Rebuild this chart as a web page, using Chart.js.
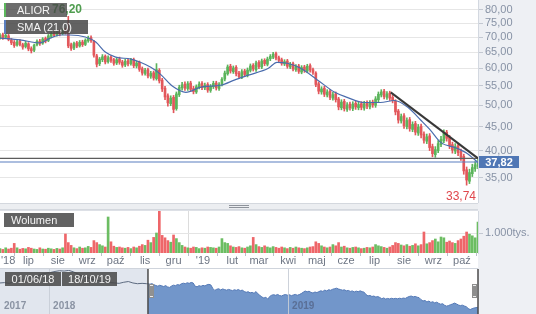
<!DOCTYPE html>
<html><head><meta charset="utf-8">
<script src="https://cdn.jsdelivr.net/npm/chart.js@4.4.1/dist/chart.umd.min.js"></script>
<style>
html,body{margin:0;padding:0;background:#fff;width:536px;height:314px;overflow:hidden;font-family:'Liberation Sans',Arial,sans-serif;}
.wrap{position:absolute;left:0;width:536px;}
canvas{display:block;}
.tag{position:absolute;height:14px;line-height:14px;font-size:11px;color:#f4f4f4;background:rgba(72,72,72,0.86);box-sizing:border-box;white-space:nowrap;}
</style></head><body>
<div class="wrap" style="top:0;height:203px"><canvas id="main" width="536" height="203"></canvas></div>
<div class="wrap" style="top:203px;height:65px"><canvas id="vol" width="536" height="65"></canvas></div>
<div class="wrap" style="top:268px;height:46px"><canvas id="nav" width="536" height="46"></canvas></div>
<div style="position:absolute;left:52px;top:2px;font-size:12px;font-weight:bold;color:#4f9d4f">76,20</div>
<div class="tag" style="left:4px;top:3px;width:63px;padding-left:11px;border-left:2px solid #5cb85c;background:rgba(72,72,72,0.8)">ALIOR</div>
<div class="tag" style="left:4px;top:20px;width:84px;padding-left:11px;border-left:2px solid #5b7fbf">SMA (21,0)</div>
<div class="tag" style="left:4px;top:213px;width:70px;padding-left:7px">Wolumen</div>
<div class="tag" style="left:5px;top:272px;width:56px;text-align:center">01/06/18</div>
<div class="tag" style="left:62px;top:272px;width:55px;text-align:center">18/10/19</div>
<script>
// ---------- data ----------
const DAY_STEP = 3;            // calendar days between drawn sessions
const END_DAY = 504;           // 01/06/18 .. 18/10/19
const YEAR_DAY = 214;          // 01/01/19
const monthDays   = [0,30,61,92,122,153,183,214,245,273,304,334,365,395,426,457,487];
const monthLabels = ["'18","lip","sie","wrz","paź","lis","gru","'19","lut","mar","kwi","maj","cze","lip","sie","wrz","paź"];
const priceTicks = [35,40,45,50,55,60,65,70,75,80];
const PRICE_MIN = 30.9, PRICE_MAX = 84.0;
const LAST_PRICE = 37.82;
const SUPPORT_LEVEL = 38.5;
const trendDays = [412, 504];
const trendValues = [53.3, 38.5];

const opens = [69.8,70.8,69.9,70.4,69.0,68.2,67.3,68.6,67.4,66.8,
 67.7,66.1,65.6,67.4,68.6,67.9,69.5,68.8,70.2,71.4,
 70.8,71.9,71.2,72.5,72.0,67.4,66.3,68.0,67.0,68.3,
 67.5,68.7,69.8,68.5,63.8,61.4,62.6,63.7,62.0,63.4,
 62.6,61.6,62.8,61.9,61.0,62.3,61.4,62.6,60.7,61.8,
 59.9,58.5,59.6,57.7,58.7,57.0,59.4,56.6,54.4,52.4,
 50.4,52.0,49.2,52.7,54.5,55.5,54.3,55.8,54.3,53.4,
 54.7,55.7,54.5,55.4,53.8,54.8,55.8,54.3,55.5,56.9,
 58.4,60.6,59.0,60.3,58.6,57.5,59.2,58.0,59.4,60.9,
 59.6,61.8,60.4,62.4,61.2,62.9,63.4,64.5,63.2,62.6,
 61.3,62.2,60.4,61.4,59.6,60.7,58.9,60.4,59.2,60.8,
 59.6,58.6,55.6,53.4,54.4,52.6,53.6,51.8,52.9,51.6,
 49.4,51.0,49.0,50.3,49.2,50.5,49.4,50.4,49.3,50.6,
 49.6,50.8,50.0,51.4,52.6,53.6,52.0,53.1,52.0,51.0,
 48.6,46.3,47.5,45.0,46.6,44.4,45.7,43.6,45.1,43.4,
 41.9,43.0,40.8,39.2,40.0,41.2,42.0,43.8,42.7,41.2,
 39.9,41.0,39.8,38.9,36.4,34.4,35.7,36.6,37.0];
const highs = [71.2,71.4,71.1,70.9,69.5,68.8,68.9,69.1,67.9,68.5,
 68.1,66.7,67.6,69.0,69.2,69.8,70.0,70.9,71.8,72.0,
 72.4,72.5,73.0,73.1,77.5,67.9,68.3,68.5,68.8,68.9,
 69.4,70.3,70.4,68.9,64.3,63.3,64.2,64.1,63.8,63.9,
 63.0,63.1,63.4,62.4,62.7,62.8,63.0,63.1,62.2,62.2,
 60.4,60.0,60.1,59.1,59.2,61.4,59.9,57.1,54.9,52.9,
 52.4,52.5,53.4,55.2,56.0,56.1,56.2,56.3,54.9,55.3,
 56.1,56.2,55.8,55.9,55.4,56.3,56.3,55.9,57.3,59.2,
 61.0,61.2,60.7,60.8,59.1,59.6,59.7,60.1,61.3,61.4,
 62.2,62.3,62.8,62.9,63.4,64.2,64.9,65.0,63.7,63.1,
 62.6,62.7,61.8,61.9,61.1,61.2,60.8,60.9,61.2,61.3,
 60.1,59.0,56.1,54.8,54.9,54.0,54.1,53.3,53.4,52.0,
 51.4,51.5,50.7,50.8,50.9,51.0,50.8,50.9,51.0,51.1,
 51.2,51.3,52.2,53.4,54.0,54.1,53.5,53.6,52.5,51.4,
 49.0,47.9,48.0,47.0,47.1,46.1,46.2,45.5,45.6,43.9,
 43.4,43.5,41.3,40.8,42.0,42.9,44.3,44.2,43.1,41.7,
 41.4,41.5,40.3,39.3,36.9,36.5,37.4,37.9,38.3];
const lows = [69.3,69.2,69.5,68.7,67.4,66.5,66.9,67.0,65.9,66.3,
 65.4,64.7,65.1,67.0,67.2,67.5,68.0,68.4,69.7,70.1,
 70.3,70.4,70.8,71.0,66.4,65.5,65.8,66.4,66.6,66.8,
 67.1,68.2,68.2,63.4,60.4,60.8,62.0,61.3,61.5,61.8,
 60.9,61.1,61.2,60.3,60.5,60.7,60.9,60.2,60.1,59.1,
 58.0,58.0,57.2,57.1,56.6,56.6,55.8,53.5,51.4,49.8,
 49.9,48.2,48.8,52.2,53.9,53.8,53.8,53.5,52.9,53.0,
 54.2,54.0,54.0,53.3,53.3,54.3,53.9,53.8,55.0,56.4,
 58.0,58.6,58.5,57.8,57.0,57.0,57.6,57.5,58.9,59.2,
 59.1,59.9,59.9,60.8,60.7,62.3,62.9,62.5,61.8,60.9,
 60.8,60.0,59.9,59.2,59.1,58.5,58.4,58.8,58.7,58.9,
 58.2,54.8,52.9,52.8,52.2,52.1,51.4,51.3,50.8,48.9,
 48.9,48.6,48.5,48.8,48.7,49.0,48.9,48.9,48.8,49.2,
 49.1,49.5,49.5,50.9,52.1,51.6,51.5,51.2,50.6,47.7,
 45.8,45.8,44.6,44.5,44.0,43.9,43.2,43.1,42.6,41.5,
 41.4,40.0,38.8,38.7,39.6,40.8,41.6,41.9,40.4,39.5,
 39.4,39.0,38.1,35.6,33.74,34.0,35.2,36.1,36.6];
const closes = [70.5,69.8,70.6,69.2,68.0,67.1,68.4,67.5,66.6,67.9,
 66.0,65.4,67.2,68.5,67.8,69.3,68.6,70.4,71.2,70.6,
 71.8,71.0,72.3,71.5,67.0,66.2,67.8,66.9,68.2,67.4,
 68.9,69.6,68.8,64.0,61.2,62.8,63.5,61.9,63.2,62.4,
 61.5,62.6,61.8,60.9,62.1,61.3,62.5,60.8,61.6,59.7,
 58.6,59.4,57.8,58.5,57.2,59.6,56.4,54.2,52.1,50.6,
 51.8,49.0,52.9,54.6,55.3,54.4,55.6,54.1,53.5,54.8,
 55.5,54.6,55.2,53.9,54.9,55.7,54.5,55.4,56.8,58.6,
 60.4,59.2,60.1,58.4,57.6,59.0,58.2,59.5,60.7,59.8,
 61.6,60.5,62.2,61.4,62.8,63.6,64.3,63.1,62.4,61.5,
 62.0,60.6,61.2,59.8,60.5,59.1,60.2,59.4,60.6,59.5,
 58.8,55.4,53.6,54.2,52.8,53.4,52.0,52.7,51.4,49.6,
 50.8,49.2,50.1,49.4,50.3,49.6,50.2,49.5,50.4,49.8,
 50.6,50.1,51.6,52.8,53.4,52.2,52.9,51.8,51.2,48.4,
 46.5,47.3,45.2,46.4,44.6,45.5,43.8,44.9,43.2,42.1,
 42.8,40.6,39.4,40.2,41.4,42.3,43.6,42.5,41.0,40.1,
 40.8,39.6,38.7,36.2,34.6,35.9,36.8,37.3,37.82];
const volumes = [220,180,260,200,240,480,260,190,230,210,
 280,240,200,180,260,200,190,240,210,180,
 230,200,260,950,520,380,260,220,300,240,
 260,330,280,620,520,420,360,300,1800,560,
 340,280,300,260,240,280,220,300,260,340,
 420,380,640,520,780,1000,2150,880,760,620,
 540,900,720,520,380,300,260,240,300,280,
 220,260,240,300,280,260,240,300,720,520,
 480,360,300,280,320,260,240,300,360,780,
 420,320,280,360,300,260,320,280,240,300,
 260,220,280,240,300,260,240,220,260,300,
 320,560,480,360,300,260,300,420,360,520,
 300,340,260,240,280,300,260,220,240,280,
 260,300,420,360,320,280,240,300,380,520,
 480,400,360,420,340,380,460,360,420,1050,
 460,520,620,700,560,800,760,540,600,520,
 480,620,700,840,1050,940,860,760,1550];
const smaDays   = [0,21,42,53,64,74,90,101,111,122,138,148,159,169,182,196,212,233,247,262,283,292,303,317,335,353,366,384,401,416,430,444,454,465,480,493,504];
const smaValues = [69.6,69.0,68.0,69.6,70.7,70.7,70.0,68.3,65.0,63.4,62.8,61.8,60.3,58.3,54.9,53.3,54.7,55.2,56.6,58.0,60.0,61.8,61.5,60.0,56.6,53.3,52.0,50.7,50.7,51.2,49.5,46.4,44.2,41.6,40.6,39.4,37.7];
const volumeTicks = [1000];
const VOL_MAX = 2100;

// navigator (days counted from 18/10/17)
const NAV_SEL_START = 226, NAV_END = 730, NAV_MIN = 28.5, NAV_MAX = 89.5;
const navPreDays   = [0,7,14,21,28,35,42,49,56,63,70,77,84,91,98,105,112,119,126,133,140,147,154,161,168,175,182,189,196,203,210,217,224];
const navPreValues = [71.5,72.0,71.0,73.0,74.5,76.0,77.5,79.0,81.0,83.5,85.0,86.0,87.5,88.5,88.0,89.0,87.0,84.0,81.0,79.0,77.0,75.5,74.0,73.0,72.0,71.5,71.0,72.5,73.5,71.5,70.5,71.0,70.5];
const navYearDays = [0, 75, 440];
const navYearLabels = ['2017', '2018', '2019'];

// ---------- helpers ----------
const FONT = "'Liberation Sans', Arial, Helvetica, sans-serif";
Chart.defaults.font.family = FONT;
Chart.defaults.font.size = 11;
Chart.defaults.animation = false;
Chart.defaults.responsive = false;
Chart.defaults.plugins.legend.display = false;
Chart.defaults.plugins.tooltip.enabled = false;
const fmtPrice = v => Number(v).toFixed(2).replace('.', ',');
const UP = '#5bb45b', DOWN = '#e2575b';
const days = closes.map((_, i) => i * DAY_STEP);
const candleColors = closes.map((c, i) => c >= opens[i] ? UP : DOWN);
const volColors = closes.map((c, i) => c >= opens[i] ? '#6cbd62' : '#ee6669');
const AXIS_W = 58, AXIS_BG = '#eef0f4', LABEL_C = '#8792a5';

function noPad(s) { s.paddingLeft = 0; s.paddingRight = 0; s.paddingTop = 0; s.paddingBottom = 0; }

// ---------- main price chart ----------
const mainDecor = {
  id: 'mainDecor',
  beforeDraw(chart) {
    const {ctx, chartArea: a, width, height} = chart;
    ctx.save(); ctx.fillStyle = AXIS_BG; ctx.fillRect(a.right, 0, width - a.right, height); ctx.restore();
  },
  afterDraw(chart) {
    const {ctx, chartArea: a, scales: {x, y}} = chart;
    ctx.save();
    const py = Math.round(y.getPixelForValue(LAST_PRICE));
    ctx.fillStyle = '#5077b5';
    ctx.fillRect(a.right + 1, py - 6, 40, 12);
    ctx.fillStyle = '#fff';
    ctx.font = 'bold 11px ' + FONT;
    ctx.textAlign = 'center'; ctx.textBaseline = 'middle';
    ctx.fillText(fmtPrice(LAST_PRICE), a.right + 21, py + 0.5);
    let li = 0; lows.forEach((v, i) => { if (v < lows[li]) li = i; });
    const lx = x.getPixelForValue(days[li]);
    const ly = y.getPixelForValue(lows[li]);
    ctx.fillStyle = '#e0474c';
    ctx.font = '12px ' + FONT;
    ctx.textBaseline = 'top';
    ctx.fillText(fmtPrice(lows[li]), Math.min(lx - 2, a.right - 17), ly + 6);
    ctx.restore();
  }
};

new Chart(document.getElementById('main'), {
  type: 'bar',
  data: { datasets: [
    { type: 'line', label: 'trend', data: trendDays.map((d, i) => ({x: d, y: trendValues[i]})),
      borderColor: '#383838', borderWidth: 2, pointRadius: 0, order: 1 },
    { type: 'line', label: 'kurs', data: [{x: 0, y: LAST_PRICE}, {x: END_DAY, y: LAST_PRICE}],
      borderColor: '#5a7fc0', borderWidth: 1.2, pointRadius: 0, order: 2 },
    { type: 'line', label: 'poziom', data: [{x: 0, y: SUPPORT_LEVEL}, {x: END_DAY, y: SUPPORT_LEVEL}],
      borderColor: '#5c5c5c', borderWidth: 1.2, pointRadius: 0, order: 2 },
    { type: 'line', label: 'SMA (21,0)', data: smaDays.map((d, i) => ({x: d, y: smaValues[i]})),
      borderColor: '#4a6cad', borderWidth: 1.2, pointRadius: 0, cubicInterpolationMode: 'monotone', order: 3 },
    { type: 'bar', label: 'body', data: days.map((d, i) => ({x: d, y: [opens[i], closes[i]]})),
      backgroundColor: candleColors, barThickness: 2, grouped: false, order: 4 },
    { type: 'bar', label: 'wick', data: days.map((d, i) => ({x: d, y: [lows[i], highs[i]]})),
      backgroundColor: candleColors, barThickness: 1, grouped: false, order: 5 }
  ]},
  options: {
    layout: { padding: 0 },
    scales: {
      x: { type: 'linear', min: 0, max: END_DAY, offset: false,
        afterBuildTicks: s => { s.ticks = [{value: YEAR_DAY}]; },
        ticks: { display: false }, grid: { color: '#dcdcdc', drawTicks: false }, border: { display: false },
        afterFit: s => { s.height = 0; noPad(s); } },
      y: { type: 'logarithmic', position: 'right', min: PRICE_MIN, max: PRICE_MAX, bounds: 'data',
        afterBuildTicks: s => { s.ticks = priceTicks.map(v => ({value: v})); },
        ticks: { callback: v => fmtPrice(v), color: LABEL_C, font: {size: 11}, padding: 2, autoSkip: false },
        grid: { color: '#e6e6e6', tickColor: '#c3c8d1', tickLength: 5 },
        border: { color: '#d3d8e0' },
        afterFit: s => { s.width = AXIS_W; noPad(s); } }
    }
  },
  plugins: [mainDecor]
});

// ---------- volume chart ----------
const volDecor = {
  id: 'volDecor',
  beforeDraw(chart) {
    const {ctx, chartArea: a, width, height} = chart;
    ctx.save();
    ctx.fillStyle = AXIS_BG; ctx.fillRect(a.right, 0, width - a.right, height);
    ctx.fillStyle = '#eceef1'; ctx.fillRect(0, 0, a.right, 7);
    ctx.strokeStyle = '#d4d8de'; ctx.lineWidth = 1;
    ctx.beginPath(); ctx.moveTo(0, 0.5); ctx.lineTo(a.right, 0.5); ctx.moveTo(0, 6.5); ctx.lineTo(a.right, 6.5); ctx.stroke();
    const cx = Math.round(a.right / 2);
    ctx.strokeStyle = '#8d929a';
    ctx.beginPath(); ctx.moveTo(cx - 10, 2.5); ctx.lineTo(cx + 10, 2.5); ctx.moveTo(cx - 10, 4.5); ctx.lineTo(cx + 10, 4.5); ctx.stroke();
    ctx.strokeStyle = '#dde0e6';
    ctx.beginPath(); ctx.moveTo(0, a.top - 0.5); ctx.lineTo(a.right, a.top - 0.5); ctx.stroke();
    ctx.restore();
  },
  afterDraw(chart) {
    const {ctx, chartArea: a, scales: {x}} = chart;
    ctx.save();
    ctx.font = '11px ' + FONT; ctx.fillStyle = '#6e7684';
    ctx.textAlign = 'left'; ctx.textBaseline = 'middle';
    monthDays.forEach((d, i) => {
      const w = ctx.measureText(monthLabels[i]).width;
      let left = x.getPixelForValue(d) - w / 2;
      left = Math.max(1, Math.min(left, a.right - w - 1));
      ctx.fillText(monthLabels[i], left, a.bottom + 8);
    });
    ctx.restore();
  }
};

new Chart(document.getElementById('vol'), {
  type: 'bar',
  data: { datasets: [{ label: 'Wolumen', data: days.map((d, i) => ({x: d, y: volumes[i]})),
    backgroundColor: volColors, barThickness: 2 }]},
  options: {
    layout: { padding: { top: 8 } },
    scales: {
      x: { type: 'linear', min: 0, max: END_DAY, offset: false,
        afterBuildTicks: s => { s.ticks = monthDays.map(v => ({value: v})); },
        ticks: { display: false },
        grid: { color: c => (c.tick && c.tick.value === YEAR_DAY) ? '#dcdcdc' : 'rgba(0,0,0,0)', tickColor: '#b9bfc9', tickLength: 3 },
        border: { display: false },
        afterFit: s => { s.height = 15; noPad(s); } },
      y: { position: 'right', min: 0, max: VOL_MAX,
        afterBuildTicks: s => { s.ticks = volumeTicks.map(v => ({value: v})); },
        ticks: { callback: v => (v / 1000).toFixed(3) + 'tys.', color: LABEL_C, font: {size: 11}, padding: 2 },
        grid: { color: '#e4e4e4', tickColor: '#c3c8d1', tickLength: 5 },
        border: { color: '#d3d8e0' },
        afterFit: s => { s.width = AXIS_W; noPad(s); } }
    }
  },
  plugins: [volDecor]
});

// ---------- navigator ----------
const navDecor = {
  id: 'navDecor',
  beforeDatasetsDraw(chart) {
    const {ctx, chartArea: a, width, height, scales: {x}} = chart;
    const xs = x.getPixelForValue(NAV_SEL_START);
    ctx.save();
    ctx.fillStyle = AXIS_BG; ctx.fillRect(a.right, 0, width - a.right, height);
    ctx.fillStyle = '#e1e6ee'; ctx.fillRect(0, 0, xs, height);
    ctx.strokeStyle = '#cfd4dc'; ctx.lineWidth = 1;
    ctx.beginPath(); ctx.moveTo(0, 0.5); ctx.lineTo(a.right, 0.5); ctx.stroke();
    ctx.restore();
  },
  afterDatasetsDraw(chart) {
    const {ctx, chartArea: a, height, scales: {x}} = chart;
    const xs = x.getPixelForValue(NAV_SEL_START);
    const xe = x.getPixelForValue(NAV_END);
    ctx.save();
    ctx.strokeStyle = 'rgba(200,205,214,0.9)'; ctx.lineWidth = 1;
    navYearDays.forEach(d => { if (d > 0) { const px = Math.round(x.getPixelForValue(d)) + 0.5; ctx.beginPath(); ctx.moveTo(px, 1); ctx.lineTo(px, height); ctx.stroke(); } });
    ctx.font = 'bold 10px ' + FONT;
    ctx.textAlign = 'left'; ctx.textBaseline = 'middle';
    navYearDays.forEach((d, i) => {
      ctx.fillStyle = d >= NAV_SEL_START ? '#5a6f96' : '#8a93a3';
      ctx.fillText(navYearLabels[i], x.getPixelForValue(d) + 4, 38);
    });
    ctx.strokeStyle = '#4a4a4a'; ctx.lineWidth = 1.5;
    [xs, xe].forEach(px => { ctx.beginPath(); ctx.moveTo(px, 1); ctx.lineTo(px, height); ctx.stroke(); });
    [xs + 1, xe - 6].forEach(hx => {
      ctx.fillStyle = '#ededed'; ctx.fillRect(hx, 16, 5, 14);
      ctx.strokeStyle = '#8e8e8e'; ctx.lineWidth = 1;
      ctx.strokeRect(hx + 0.5, 16.5, 4, 13);
      ctx.beginPath();
      for (let k = 0; k < 3; k++) { ctx.moveTo(hx + 1.5 + k, 18); ctx.lineTo(hx + 1.5 + k, 28); }
      ctx.stroke();
    });
    ctx.restore();
  }
};

const navPrePoints = navPreDays.map((d, i) => ({x: d, y: navPreValues[i]}));
navPrePoints.push({x: NAV_SEL_START, y: closes[0]});
const navSelPoints = days.map((d, i) => ({x: NAV_SEL_START + d, y: closes[i]}));

new Chart(document.getElementById('nav'), {
  type: 'line',
  data: { datasets: [
    { data: navPrePoints, borderColor: '#5d6b80', borderWidth: 1, pointRadius: 0, fill: false },
    { data: navSelPoints, borderColor: '#5479b6', borderWidth: 1, pointRadius: 0, fill: 'start', backgroundColor: '#7296ca' }
  ]},
  options: {
    layout: { padding: { top: 2, right: AXIS_W } },
    scales: {
      x: { type: 'linear', min: 0, max: NAV_END, display: false },
      y: { type: 'linear', min: NAV_MIN, max: NAV_MAX, display: false }
    }
  },
  plugins: [navDecor]
});
</script>
</body></html>
